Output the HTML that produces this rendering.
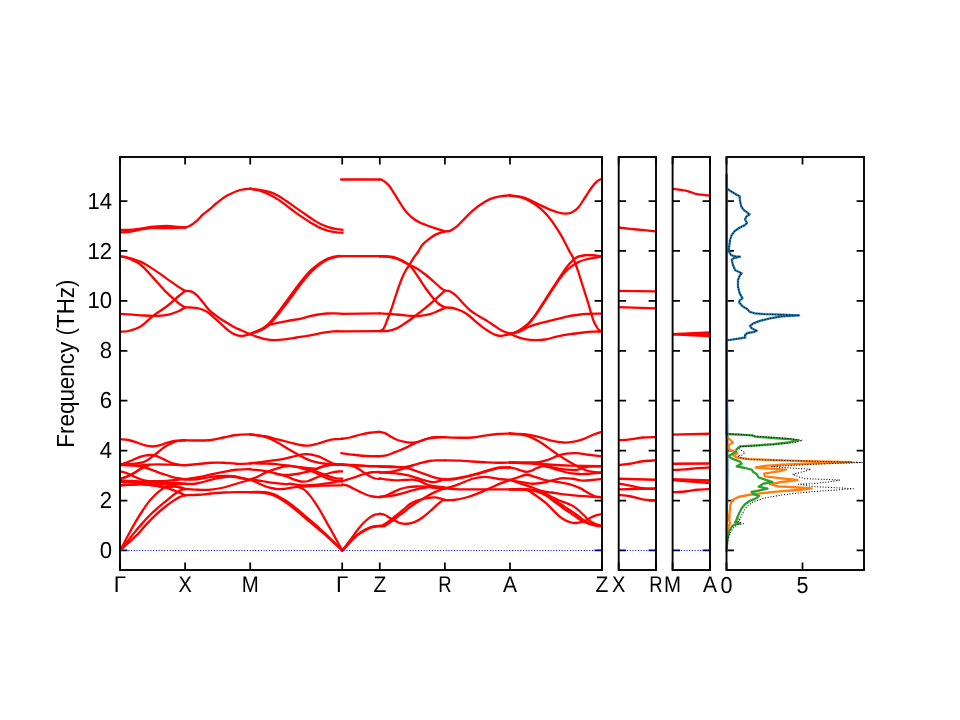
<!DOCTYPE html>
<html><head><meta charset="utf-8"><title>Phonon band structure</title>
<style>
html,body{margin:0;padding:0;background:#fff;}
body{width:960px;height:720px;overflow:hidden;font-family:"Liberation Sans",sans-serif;}
svg{display:block;will-change:transform;}
text{font-family:"Liberation Sans",sans-serif;fill:#000;}
</style></head><body>
<svg width="960" height="720" viewBox="0 0 960 720">
<rect width="960" height="720" fill="#fff"/>
<defs>
<clipPath id="c0"><rect x="120" y="157" width="482" height="413"/><rect x="618.7" y="157" width="37.3" height="413"/><rect x="672.6" y="157" width="37.4" height="413"/></clipPath>
<clipPath id="c3"><rect x="725.6" y="157" width="138.4" height="413"/></clipPath>
</defs>
<path fill="none" stroke="#000" stroke-width="1.75" d="M120.00 550.45L127.40 550.45M602.00 550.45L594.60 550.45M120.00 500.53L127.40 500.53M602.00 500.53L594.60 500.53M120.00 450.61L127.40 450.61M602.00 450.61L594.60 450.61M120.00 400.69L127.40 400.69M602.00 400.69L594.60 400.69M120.00 350.77L127.40 350.77M602.00 350.77L594.60 350.77M120.00 300.85L127.40 300.85M602.00 300.85L594.60 300.85M120.00 250.93L127.40 250.93M602.00 250.93L594.60 250.93M120.00 201.01L127.40 201.01M602.00 201.01L594.60 201.01M120.00 570.00L120.00 562.60M120.00 157.00L120.00 164.40M185.10 570.00L185.10 562.60M185.10 157.00L185.10 164.40M250.20 570.00L250.20 562.60M250.20 157.00L250.20 164.40M342.20 570.00L342.20 562.60M342.20 157.00L342.20 164.40M379.80 570.00L379.80 562.60M379.80 157.00L379.80 164.40M444.90 570.00L444.90 562.60M444.90 157.00L444.90 164.40M510.00 570.00L510.00 562.60M510.00 157.00L510.00 164.40M602.00 570.00L602.00 562.60M602.00 157.00L602.00 164.40M618.70 550.45L626.10 550.45M656.00 550.45L648.60 550.45M618.70 500.53L626.10 500.53M656.00 500.53L648.60 500.53M618.70 450.61L626.10 450.61M656.00 450.61L648.60 450.61M618.70 400.69L626.10 400.69M656.00 400.69L648.60 400.69M618.70 350.77L626.10 350.77M656.00 350.77L648.60 350.77M618.70 300.85L626.10 300.85M656.00 300.85L648.60 300.85M618.70 250.93L626.10 250.93M656.00 250.93L648.60 250.93M618.70 201.01L626.10 201.01M656.00 201.01L648.60 201.01M618.70 570.00L618.70 562.60M618.70 157.00L618.70 164.40M656.00 570.00L656.00 562.60M656.00 157.00L656.00 164.40M672.60 550.45L680.00 550.45M710.00 550.45L702.60 550.45M672.60 500.53L680.00 500.53M710.00 500.53L702.60 500.53M672.60 450.61L680.00 450.61M710.00 450.61L702.60 450.61M672.60 400.69L680.00 400.69M710.00 400.69L702.60 400.69M672.60 350.77L680.00 350.77M710.00 350.77L702.60 350.77M672.60 300.85L680.00 300.85M710.00 300.85L702.60 300.85M672.60 250.93L680.00 250.93M710.00 250.93L702.60 250.93M672.60 201.01L680.00 201.01M710.00 201.01L702.60 201.01M672.60 570.00L672.60 562.60M672.60 157.00L672.60 164.40M710.00 570.00L710.00 562.60M710.00 157.00L710.00 164.40M726.50 550.45L733.90 550.45M864.00 550.45L856.60 550.45M726.50 500.53L733.90 500.53M864.00 500.53L856.60 500.53M726.50 450.61L733.90 450.61M864.00 450.61L856.60 450.61M726.50 400.69L733.90 400.69M864.00 400.69L856.60 400.69M726.50 350.77L733.90 350.77M864.00 350.77L856.60 350.77M726.50 300.85L733.90 300.85M864.00 300.85L856.60 300.85M726.50 250.93L733.90 250.93M864.00 250.93L856.60 250.93M726.50 201.01L733.90 201.01M864.00 201.01L856.60 201.01M726.50 570.00L726.50 562.60M726.50 157.00L726.50 164.40M802.50 570.00L802.50 562.60M802.50 157.00L802.50 164.40"/>
<g clip-path="url(#c0)" fill="none" stroke="#ff0000" stroke-width="2.3" stroke-linecap="round" stroke-linejoin="round"><path d="M120.00 230.00C121.42 229.97 125.69 229.97 128.50 229.83C131.31 229.69 134.06 229.49 136.83 229.17C139.61 228.85 142.39 228.33 145.17 227.92C147.94 227.50 150.72 226.97 153.50 226.67C156.28 226.36 159.06 226.18 161.83 226.08C164.61 225.99 167.39 225.94 170.17 226.08C172.94 226.22 176.01 226.68 178.50 226.92C180.99 227.15 183.99 227.40 185.08 227.50"/><path d="M120.00 232.33C121.42 232.26 125.69 232.24 128.50 231.92C131.31 231.60 134.06 230.94 136.83 230.42C139.61 229.89 142.39 229.17 145.17 228.75C147.94 228.33 150.72 228.03 153.50 227.92C156.28 227.81 159.06 228.04 161.83 228.08C164.61 228.12 167.39 228.22 170.17 228.17C172.94 228.11 176.01 227.86 178.50 227.75C180.99 227.64 183.99 227.54 185.08 227.50"/><path d="M120.00 256.30C121.42 256.54 125.00 256.82 128.50 257.75C132.00 258.68 136.83 259.96 141.00 261.90C145.17 263.84 149.33 266.70 153.50 269.40C157.67 272.10 161.83 275.18 166.00 278.10C170.17 281.02 175.32 284.78 178.50 286.90C181.68 289.02 184.00 290.15 185.10 290.80"/><path d="M120.00 256.30C121.42 256.63 125.00 256.85 128.50 258.30C132.00 259.75 136.83 261.70 141.00 265.00C145.17 268.30 149.33 273.62 153.50 278.10C157.67 282.58 161.83 287.73 166.00 291.90C170.17 296.07 175.32 300.53 178.50 303.10C181.68 305.67 184.00 306.60 185.10 307.30"/><path d="M120.00 313.80C121.42 313.90 125.00 314.15 128.50 314.40C132.00 314.65 136.83 315.05 141.00 315.30C145.17 315.55 149.33 315.92 153.50 315.90C157.67 315.88 161.83 315.97 166.00 315.20C170.17 314.43 175.32 312.57 178.50 311.25C181.68 309.93 184.00 307.96 185.10 307.30"/><path d="M120.00 331.70C121.42 331.58 125.00 331.91 128.50 331.00C132.00 330.09 136.83 328.82 141.00 326.25C145.17 323.68 149.33 318.83 153.50 315.60C157.67 312.38 161.83 310.12 166.00 306.90C170.17 303.67 175.32 298.93 178.50 296.25C181.68 293.57 184.00 291.71 185.10 290.80"/><path d="M185.20 227.50C186.00 227.22 188.08 226.92 190.00 225.80C191.92 224.68 194.48 222.73 196.70 220.80C198.92 218.87 201.08 216.17 203.30 214.20C205.52 212.23 207.77 210.87 210.00 209.00C212.23 207.13 213.92 205.20 216.70 203.00C219.48 200.80 222.82 197.97 226.70 195.80C230.58 193.63 236.08 191.18 240.00 190.00C243.92 188.82 248.50 188.92 250.20 188.70"/><path d="M185.10 290.80C186.08 290.90 188.97 290.60 191.00 291.40C193.03 292.20 195.17 293.65 197.25 295.60C199.33 297.55 201.42 300.60 203.50 303.10C205.58 305.60 207.67 308.52 209.75 310.60C211.83 312.68 213.92 314.03 216.00 315.60C218.08 317.17 220.17 318.64 222.25 320.00C224.33 321.36 226.42 322.50 228.50 323.75C230.58 325.00 232.67 326.43 234.75 327.50C236.83 328.57 238.43 329.08 241.00 330.20C243.57 331.32 248.67 333.53 250.20 334.20"/><path d="M185.10 307.30C186.08 307.33 188.97 307.37 191.00 307.50C193.03 307.63 195.17 307.68 197.25 308.10C199.33 308.52 201.42 309.06 203.50 310.00C205.58 310.94 207.67 312.18 209.75 313.75C211.83 315.32 213.92 317.52 216.00 319.40C218.08 321.27 220.17 323.13 222.25 325.00C224.33 326.87 226.42 329.03 228.50 330.60C230.58 332.17 232.55 333.50 234.75 334.40C236.95 335.30 239.12 336.03 241.70 336.00C244.27 335.97 248.78 334.50 250.20 334.20"/><path d="M250.20 188.70C251.83 188.90 256.70 189.33 260.00 189.90C263.30 190.47 266.95 191.12 270.00 192.10C273.05 193.08 275.52 194.28 278.30 195.80C281.08 197.33 283.92 199.37 286.70 201.25C289.48 203.13 292.23 205.16 295.00 207.10C297.77 209.04 300.52 210.96 303.30 212.90C306.08 214.84 308.92 216.94 311.70 218.75C314.48 220.56 317.23 222.36 320.00 223.75C322.77 225.14 325.52 226.19 328.30 227.10C331.08 228.01 334.32 228.75 336.70 229.20C339.08 229.65 341.62 229.70 342.60 229.80"/><path d="M250.20 188.70C251.83 189.03 256.70 189.65 260.00 190.70C263.30 191.75 266.95 193.52 270.00 195.00C273.05 196.48 275.52 197.80 278.30 199.60C281.08 201.40 283.92 203.72 286.70 205.80C289.48 207.88 292.23 210.08 295.00 212.10C297.77 214.12 300.52 216.03 303.30 217.90C306.08 219.77 308.92 221.63 311.70 223.30C314.48 224.97 317.23 226.65 320.00 227.90C322.77 229.15 325.52 230.07 328.30 230.80C331.08 231.53 334.32 231.98 336.70 232.30C339.08 232.62 341.62 232.68 342.60 232.75"/><path d="M250.17 333.83C251.10 333.54 253.78 332.76 255.76 332.07C257.73 331.37 259.90 330.80 262.02 329.68C264.15 328.57 266.38 327.24 268.51 325.39C270.64 323.53 272.69 321.05 274.80 318.56C276.92 316.06 279.10 313.13 281.21 310.41C283.31 307.70 285.32 305.04 287.41 302.27C289.51 299.50 291.65 296.64 293.77 293.78C295.88 290.92 298.35 287.45 300.10 285.11C301.84 282.78 302.85 281.49 304.23 279.79C305.60 278.10 306.97 276.48 308.34 274.96C309.70 273.43 310.36 272.49 312.41 270.62C314.45 268.75 317.89 265.69 320.63 263.76C323.36 261.83 326.08 260.23 328.82 259.04C331.56 257.84 334.82 257.06 337.05 256.58C339.27 256.10 341.31 256.24 342.17 256.17"/><path d="M250.17 333.83C251.07 333.46 253.66 332.41 255.58 331.60C257.49 330.79 259.60 330.15 261.64 328.98C263.68 327.82 265.78 326.48 267.82 324.61C269.86 322.75 271.81 320.28 273.87 317.78C275.92 315.27 278.06 312.32 280.13 309.59C282.19 306.86 284.18 304.18 286.25 301.40C288.33 298.62 290.46 295.75 292.57 292.89C294.67 290.03 297.15 286.55 298.90 284.22C300.66 281.88 301.70 280.57 303.11 278.87C304.51 277.18 305.92 275.57 307.33 274.04C308.75 272.52 309.48 271.57 311.59 269.71C313.71 267.86 317.22 264.81 320.04 262.91C322.86 261.01 325.69 259.43 328.51 258.30C331.33 257.16 334.68 256.44 336.95 256.09C339.23 255.73 341.30 256.15 342.17 256.17"/><path d="M250.17 333.83C251.08 333.50 253.72 332.58 255.67 331.83C257.61 331.08 259.75 330.42 261.83 329.33C263.92 328.25 266.39 326.19 268.17 325.33C269.94 324.47 270.94 324.58 272.50 324.17C274.06 323.75 275.64 323.25 277.50 322.83C279.36 322.42 281.58 322.06 283.67 321.67C285.75 321.28 287.28 320.97 290.00 320.50C292.72 320.03 296.67 319.56 300.00 318.83C303.33 318.11 306.94 316.89 310.00 316.17C313.06 315.44 315.56 314.94 318.33 314.50C321.11 314.06 323.89 313.69 326.67 313.50C329.44 313.31 332.42 313.28 335.00 313.33C337.58 313.39 340.97 313.75 342.17 313.83"/><path d="M250.17 334.17C251.25 334.58 254.19 335.83 256.67 336.67C259.14 337.50 261.94 338.58 265.00 339.17C268.06 339.75 271.67 340.14 275.00 340.17C278.33 340.19 281.39 339.78 285.00 339.33C288.61 338.89 292.50 338.17 296.67 337.50C300.83 336.83 305.56 336.14 310.00 335.33C314.44 334.53 319.44 333.33 323.33 332.67C327.22 332.00 330.19 331.56 333.33 331.33C336.47 331.11 340.69 331.33 342.17 331.33"/><path d="M341.00 179.50L379.67 179.50"/><path d="M342.17 256.17L379.67 256.17"/><path d="M342.17 313.83L379.67 313.33"/><path d="M342.17 331.33L379.67 331.17"/><path d="M379.80 179.50C380.21 179.58 380.80 179.08 382.25 180.00C383.70 180.92 386.42 182.60 388.50 185.00C390.58 187.40 392.67 191.17 394.75 194.40C396.83 197.63 398.92 201.28 401.00 204.40C403.08 207.52 405.17 210.71 407.25 213.10C409.33 215.49 411.42 217.18 413.50 218.75C415.58 220.32 417.67 221.46 419.75 222.50C421.83 223.54 423.92 224.21 426.00 225.00C428.08 225.79 430.17 226.52 432.25 227.25C434.33 227.98 436.39 228.72 438.50 229.40C440.61 230.08 443.83 230.98 444.90 231.30"/><path d="M379.75 331.25C380.38 330.83 382.25 330.62 383.50 328.75C384.75 326.88 386.00 323.12 387.25 320.00C388.50 316.88 389.75 313.54 391.00 310.00C392.25 306.46 393.50 302.50 394.75 298.75C396.00 295.00 397.25 291.04 398.50 287.50C399.75 283.96 401.00 280.42 402.25 277.50C403.50 274.58 404.75 272.18 406.00 270.00C407.25 267.82 408.50 266.38 409.75 264.40C411.00 262.42 412.04 260.29 413.50 258.10C414.96 255.91 417.04 253.43 418.50 251.25C419.96 249.07 420.58 246.97 422.25 245.00C423.92 243.03 426.21 241.17 428.50 239.40C430.79 237.63 433.27 235.75 436.00 234.40C438.73 233.05 443.42 231.82 444.90 231.30"/><path d="M379.75 256.25C381.21 256.29 385.79 256.25 388.50 256.50C391.21 256.75 393.50 256.96 396.00 257.75C398.50 258.54 401.21 260.04 403.50 261.25C405.79 262.46 407.46 263.75 409.75 265.00C412.04 266.25 414.54 267.08 417.25 268.75C419.96 270.42 423.08 272.71 426.00 275.00C428.92 277.29 432.25 280.32 434.75 282.50C437.25 284.68 439.31 286.75 441.00 288.10C442.69 289.45 444.25 290.18 444.90 290.60"/><path d="M379.75 256.25C381.21 256.36 385.79 256.52 388.50 256.90C391.21 257.27 393.50 257.67 396.00 258.50C398.50 259.33 401.21 260.72 403.50 261.90C405.79 263.08 407.88 263.93 409.75 265.60C411.62 267.27 413.08 269.60 414.75 271.90C416.42 274.20 417.88 276.59 419.75 279.40C421.62 282.21 423.92 285.83 426.00 288.75C428.08 291.67 430.17 294.40 432.25 296.90C434.33 299.40 436.39 301.98 438.50 303.75C440.61 305.52 443.83 306.88 444.90 307.50"/><path d="M379.67 313.33C382.50 313.53 391.61 314.08 396.67 314.50C401.72 314.92 406.11 315.61 410.00 315.83C413.89 316.06 416.67 316.11 420.00 315.83C423.33 315.56 426.94 315.00 430.00 314.17C433.06 313.33 435.89 311.86 438.33 310.83C440.78 309.81 443.61 308.47 444.67 308.00"/><path d="M379.67 331.17C381.11 331.11 385.50 331.31 388.33 330.83C391.17 330.36 393.89 329.58 396.67 328.33C399.44 327.08 402.22 325.14 405.00 323.33C407.78 321.53 410.56 319.58 413.33 317.50C416.11 315.42 418.89 313.06 421.67 310.83C424.44 308.61 427.22 306.53 430.00 304.17C432.78 301.81 435.89 298.89 438.33 296.67C440.78 294.44 443.61 291.81 444.67 290.83"/><path d="M444.67 231.33C445.56 231.25 448.00 231.61 450.00 230.83C452.00 230.06 454.44 228.47 456.67 226.67C458.89 224.86 460.83 222.50 463.33 220.00C465.83 217.50 468.89 214.17 471.67 211.67C474.44 209.17 476.94 207.08 480.00 205.00C483.06 202.92 486.67 200.61 490.00 199.17C493.33 197.72 496.72 196.97 500.00 196.33C503.28 195.69 508.06 195.50 509.67 195.33"/><path d="M444.90 290.60C445.71 290.71 447.90 290.42 449.75 291.25C451.60 292.08 453.71 293.52 456.00 295.60C458.29 297.68 461.21 301.35 463.50 303.75C465.79 306.15 467.67 308.23 469.75 310.00C471.83 311.77 473.92 313.05 476.00 314.40C478.08 315.75 480.17 316.85 482.25 318.10C484.33 319.35 486.21 320.43 488.50 321.90C490.79 323.37 493.75 325.43 496.00 326.90C498.25 328.37 499.68 329.57 502.00 330.70C504.32 331.83 508.58 333.20 509.90 333.70"/><path d="M444.90 307.50C445.92 307.54 448.94 307.43 451.00 307.75C453.06 308.07 455.17 308.71 457.25 309.40C459.33 310.09 461.42 310.76 463.50 311.90C465.58 313.04 467.67 314.58 469.75 316.25C471.83 317.92 473.92 320.12 476.00 321.90C478.08 323.67 480.17 325.34 482.25 326.90C484.33 328.46 486.54 330.03 488.50 331.25C490.46 332.47 492.08 333.44 494.00 334.20C495.92 334.96 497.35 335.80 500.00 335.80C502.65 335.80 508.25 334.47 509.90 334.20"/><path d="M509.67 195.33C511.39 195.56 516.61 195.89 520.00 196.67C523.39 197.44 526.67 198.61 530.00 200.00C533.33 201.39 536.67 203.39 540.00 205.00C543.33 206.61 546.94 208.42 550.00 209.67C553.06 210.92 555.83 211.83 558.33 212.50C560.83 213.17 562.78 213.67 565.00 213.67C567.22 213.67 569.44 213.53 571.67 212.50C573.89 211.47 576.11 210.00 578.33 207.50C580.56 205.00 582.78 200.83 585.00 197.50C587.22 194.17 589.72 190.14 591.67 187.50C593.61 184.86 595.14 183.06 596.67 181.67C598.19 180.28 600.14 179.58 600.83 179.17"/><path d="M510.00 195.50C511.88 195.83 517.71 196.43 521.25 197.50C524.79 198.57 528.12 200.13 531.25 201.90C534.38 203.67 537.29 205.82 540.00 208.10C542.71 210.38 545.00 212.68 547.50 215.60C550.00 218.52 552.71 222.27 555.00 225.60C557.29 228.93 559.38 232.37 561.25 235.60C563.12 238.83 564.88 242.35 566.25 245.00C567.62 247.65 568.46 249.58 569.50 251.50C570.54 253.42 571.58 254.67 572.50 256.50C573.42 258.33 574.07 260.04 575.00 262.50C575.93 264.96 577.06 268.12 578.10 271.25C579.14 274.38 580.10 277.61 581.25 281.25C582.40 284.89 583.75 289.14 585.00 293.10C586.25 297.06 587.71 301.56 588.75 305.00C589.79 308.44 590.42 311.04 591.25 313.75C592.08 316.46 592.92 319.17 593.75 321.25C594.58 323.33 595.38 324.79 596.25 326.25C597.12 327.71 598.12 329.12 599.00 330.00C599.88 330.88 601.08 331.25 601.50 331.50"/><path d="M509.70 334.00C510.75 333.67 513.87 332.98 516.00 332.00C518.13 331.02 520.38 329.58 522.50 328.10C524.62 326.62 526.67 325.22 528.75 323.10C530.83 320.98 532.92 318.27 535.00 315.40C537.08 312.53 539.17 309.12 541.25 305.90C543.33 302.68 545.42 299.33 547.50 296.10C549.58 292.87 551.67 289.70 553.75 286.50C555.83 283.30 557.92 280.02 560.00 276.90C562.08 273.77 564.17 270.47 566.25 267.75C568.33 265.03 570.62 262.41 572.50 260.60C574.38 258.79 575.42 257.79 577.50 256.90C579.58 256.01 582.50 255.53 585.00 255.25C587.50 254.97 589.75 255.04 592.50 255.25C595.25 255.46 600.00 256.29 601.50 256.50"/><path d="M509.70 334.00C510.75 333.70 513.87 333.12 516.00 332.20C518.13 331.28 520.38 329.93 522.50 328.50C524.62 327.07 526.67 325.67 528.75 323.60C530.83 321.53 532.92 318.90 535.00 316.10C537.08 313.30 539.17 309.97 541.25 306.80C543.33 303.63 545.42 300.30 547.50 297.10C549.58 293.90 551.67 290.73 553.75 287.60C555.83 284.47 557.92 281.07 560.00 278.30C562.08 275.53 564.17 273.12 566.25 271.00C568.33 268.88 570.42 267.12 572.50 265.60C574.58 264.08 576.67 262.88 578.75 261.90C580.83 260.92 582.71 260.38 585.00 259.75C587.29 259.12 589.75 258.61 592.50 258.10C595.25 257.59 600.00 256.93 601.50 256.70"/><path d="M509.67 334.17C511.39 333.69 516.89 332.53 520.00 331.33C523.11 330.14 525.56 328.19 528.33 327.00C531.11 325.81 533.61 325.06 536.67 324.17C539.72 323.28 543.33 322.50 546.67 321.67C550.00 320.83 553.33 320.00 556.67 319.17C560.00 318.33 563.33 317.36 566.67 316.67C570.00 315.97 573.33 315.47 576.67 315.00C580.00 314.53 582.64 314.06 586.67 313.83C590.69 313.61 598.47 313.69 600.83 313.67"/><path d="M509.67 333.67C510.83 334.17 514.11 335.75 516.67 336.67C519.22 337.58 521.94 338.58 525.00 339.17C528.06 339.75 531.67 340.11 535.00 340.17C538.33 340.22 541.39 340.08 545.00 339.50C548.61 338.92 552.50 337.56 556.67 336.67C560.83 335.78 565.56 334.86 570.00 334.17C574.44 333.47 579.44 332.92 583.33 332.50C587.22 332.08 590.42 331.83 593.33 331.67C596.25 331.50 599.58 331.53 600.83 331.50"/><path d="M618.30 227.50C621.42 227.83 630.75 228.87 637.00 229.50C643.25 230.13 652.67 231.00 655.80 231.30"/><path d="M618.30 290.80L655.80 291.30"/><path d="M618.30 307.20L655.80 308.30"/><path d="M672.20 188.70C674.62 189.05 682.62 189.88 686.70 190.80C690.78 191.72 692.87 193.42 696.70 194.20C700.53 194.98 707.53 195.28 709.70 195.50"/><path d="M672.20 334.20L709.70 332.30"/><path d="M672.20 334.20L709.70 334.20"/><path d="M672.20 334.40L709.70 336.00"/><path d="M120.17 439.17C121.56 439.31 125.72 439.44 128.50 440.00C131.28 440.56 134.06 441.60 136.83 442.50C139.61 443.40 142.53 444.75 145.17 445.42C147.81 446.08 150.31 446.50 152.67 446.50C155.03 446.50 156.83 446.08 159.33 445.42C161.83 444.75 164.89 443.29 167.67 442.50C170.44 441.71 173.08 441.04 176.00 440.67C178.92 440.29 183.64 440.32 185.17 440.25"/><path d="M120.17 464.58C121.56 464.51 125.72 464.38 128.50 464.17C131.28 463.96 134.33 463.68 136.83 463.33C139.33 462.99 141.69 462.64 143.50 462.08C145.31 461.53 146.14 460.97 147.67 460.00C149.19 459.03 151.00 457.50 152.67 456.25C154.33 455.00 156.00 453.82 157.67 452.50C159.33 451.18 161.00 449.58 162.67 448.33C164.33 447.08 165.72 446.08 167.67 445.00C169.61 443.92 172.11 442.58 174.33 441.83C176.56 441.08 179.19 440.76 181.00 440.50C182.81 440.24 184.47 440.29 185.17 440.25"/><path d="M120.17 464.58C121.14 464.31 123.92 463.68 126.00 462.92C128.08 462.15 130.44 460.97 132.67 460.00C134.89 459.03 137.11 457.85 139.33 457.08C141.56 456.32 143.92 455.76 146.00 455.42C148.08 455.07 150.17 454.93 151.83 455.00C153.50 455.07 154.47 455.35 156.00 455.83C157.53 456.32 159.33 457.15 161.00 457.92C162.67 458.68 164.06 459.51 166.00 460.42C167.94 461.32 170.44 462.60 172.67 463.33C174.89 464.07 177.25 464.53 179.33 464.83C181.42 465.14 184.19 465.11 185.17 465.17"/><path d="M120.17 464.83C122.25 464.93 129.19 465.33 132.67 465.42C136.14 465.50 138.22 465.46 141.00 465.33C143.78 465.21 146.56 464.83 149.33 464.67C152.11 464.50 154.19 464.35 157.67 464.33C161.14 464.32 165.58 464.44 170.17 464.58C174.75 464.72 182.67 465.07 185.17 465.17"/><path d="M120.17 465.00C121.56 465.03 125.72 465.03 128.50 465.17C131.28 465.31 134.33 465.51 136.83 465.83C139.33 466.15 141.14 466.46 143.50 467.08C145.86 467.71 148.64 468.75 151.00 469.58C153.36 470.42 155.44 471.28 157.67 472.08C159.89 472.89 162.11 473.67 164.33 474.42C166.56 475.17 168.78 475.94 171.00 476.58C173.22 477.22 175.72 477.85 177.67 478.25C179.61 478.65 181.42 478.85 182.67 479.00C183.92 479.15 184.75 479.14 185.17 479.17"/><path d="M120.17 471.25C121.14 471.53 123.92 472.15 126.00 472.92C128.08 473.68 130.44 474.86 132.67 475.83C134.89 476.81 137.39 477.99 139.33 478.75C141.28 479.51 142.67 480.03 144.33 480.42C146.00 480.81 147.11 480.94 149.33 481.08C151.56 481.22 154.78 481.29 157.67 481.25C160.56 481.21 163.78 481.04 166.67 480.83C169.56 480.62 171.92 480.28 175.00 480.00C178.08 479.72 183.47 479.31 185.17 479.17"/><path d="M120.17 478.75C121.39 478.33 125.03 477.29 127.50 476.25C129.97 475.21 132.60 473.86 135.00 472.50C137.40 471.14 139.62 469.29 141.92 468.08C144.21 466.88 147.61 465.72 148.75 465.25"/><path d="M120.17 479.33C122.01 478.56 127.32 476.74 131.25 474.67C135.18 472.60 140.74 468.53 143.75 466.92C146.76 465.31 148.40 465.32 149.33 465.00"/><path d="M120.20 480.70C122.28 480.75 128.57 480.82 132.70 481.00C136.83 481.18 140.83 481.58 145.00 481.80C149.17 482.02 154.08 482.25 157.70 482.30C161.32 482.35 163.82 482.00 166.70 482.10C169.58 482.20 171.92 482.63 175.00 482.90C178.08 483.17 183.50 483.57 185.20 483.70"/><path d="M120.20 482.00C122.28 482.05 127.85 482.07 132.70 482.30C137.55 482.53 145.13 483.12 149.30 483.40C153.47 483.68 153.42 483.87 157.70 484.00C161.98 484.13 170.42 484.22 175.00 484.20C179.58 484.18 183.50 483.95 185.20 483.90"/><path d="M120.17 485.25C121.56 485.18 125.03 485.00 128.50 484.83C131.97 484.67 137.53 484.26 141.00 484.25C144.47 484.24 146.44 484.42 149.33 484.75C152.22 485.08 155.44 485.72 158.33 486.25C161.22 486.78 163.89 487.15 166.67 487.92C169.44 488.68 172.78 490.00 175.00 490.83C177.22 491.67 178.31 492.15 180.00 492.92C181.69 493.68 184.31 495.00 185.17 495.42"/><path d="M120.17 485.25C122.25 485.15 129.19 484.85 132.67 484.67C136.14 484.49 136.72 483.94 141.00 484.17C145.28 484.39 154.06 485.51 158.33 486.00C162.61 486.49 163.89 487.00 166.67 487.08C169.44 487.17 172.78 486.43 175.00 486.50C177.22 486.57 178.31 487.06 180.00 487.50C181.69 487.94 184.31 488.89 185.17 489.17"/><path d="M120.25 550.38C121.46 548.06 125.04 541.08 127.50 536.50C129.96 531.92 132.50 527.17 135.00 522.88C137.50 518.58 140.21 514.25 142.50 510.75C144.79 507.25 146.67 504.50 148.75 501.88C150.83 499.25 153.12 496.88 155.00 495.00C156.88 493.12 158.33 491.94 160.00 490.62C161.67 489.31 163.33 488.00 165.00 487.12C166.67 486.25 167.92 485.42 170.00 485.38C172.08 485.33 175.42 486.42 177.50 486.88C179.58 487.33 181.21 487.77 182.50 488.12C183.79 488.48 184.79 488.85 185.25 489.00"/><path d="M120.25 550.38C121.46 548.85 125.04 544.33 127.50 541.25C129.96 538.17 132.50 534.90 135.00 531.88C137.50 528.85 140.00 525.94 142.50 523.12C145.00 520.31 147.50 517.50 150.00 515.00C152.50 512.50 155.00 510.31 157.50 508.12C160.00 505.94 162.50 503.96 165.00 501.88C167.50 499.79 170.00 497.50 172.50 495.62C175.00 493.75 177.88 491.73 180.00 490.62C182.12 489.52 184.38 489.27 185.25 489.00"/><path d="M120.25 550.38C121.46 549.27 124.73 546.31 127.50 543.75C130.27 541.19 134.38 537.50 136.88 535.00C139.38 532.50 140.52 530.94 142.50 528.75C144.48 526.56 146.67 524.06 148.75 521.88C150.83 519.69 152.92 517.60 155.00 515.62C157.08 513.65 159.17 511.77 161.25 510.00C163.33 508.23 165.42 506.56 167.50 505.00C169.58 503.44 171.67 501.98 173.75 500.62C175.83 499.27 178.08 497.77 180.00 496.88C181.92 495.98 184.38 495.52 185.25 495.25"/><path d="M185.25 440.25C187.50 440.29 194.42 440.54 198.75 440.50C203.08 440.46 207.08 440.50 211.25 440.00C215.42 439.50 219.58 438.33 223.75 437.50C227.92 436.67 231.83 435.52 236.25 435.00C240.67 434.48 247.92 434.48 250.25 434.38"/><path d="M185.25 465.25C187.50 465.04 194.42 464.42 198.75 464.00C203.08 463.58 207.08 462.96 211.25 462.75C215.42 462.54 219.58 462.58 223.75 462.75C227.92 462.92 231.83 463.62 236.25 463.75C240.67 463.88 247.92 463.54 250.25 463.50"/><path d="M185.25 479.12C187.50 478.81 194.42 478.04 198.75 477.25C203.08 476.46 207.08 475.27 211.25 474.38C215.42 473.48 219.58 472.65 223.75 471.88C227.92 471.10 231.83 470.23 236.25 469.75C240.67 469.27 247.92 469.12 250.25 469.00"/><path d="M185.25 479.62C187.50 479.52 194.42 479.46 198.75 479.00C203.08 478.54 207.08 477.38 211.25 476.88C215.42 476.38 220.00 476.10 223.75 476.00C227.50 475.90 230.62 475.90 233.75 476.25C236.88 476.60 239.75 477.50 242.50 478.12C245.25 478.75 248.96 479.69 250.25 480.00"/><path d="M185.25 484.00C186.88 483.96 191.71 484.17 195.00 483.75C198.29 483.33 201.25 482.44 205.00 481.50C208.75 480.56 213.33 478.96 217.50 478.12C221.67 477.29 226.25 476.52 230.00 476.50C233.75 476.48 236.62 477.42 240.00 478.00C243.38 478.58 248.54 479.67 250.25 480.00"/><path d="M185.25 489.00C187.50 489.12 194.42 489.65 198.75 489.75C203.08 489.85 207.08 490.00 211.25 489.62C215.42 489.25 219.58 488.48 223.75 487.50C227.92 486.52 232.71 484.79 236.25 483.75C239.79 482.71 242.67 481.88 245.00 481.25C247.33 480.62 249.38 480.21 250.25 480.00"/><path d="M185.25 495.25C187.50 495.17 194.42 495.04 198.75 494.75C203.08 494.46 207.08 493.88 211.25 493.50C215.42 493.12 219.58 492.73 223.75 492.50C227.92 492.27 231.83 492.17 236.25 492.12C240.67 492.08 247.92 492.23 250.25 492.25"/><path d="M250.25 434.38C252.71 434.69 260.46 435.42 265.00 436.25C269.54 437.08 273.33 438.33 277.50 439.38C281.67 440.42 286.25 441.56 290.00 442.50C293.75 443.44 296.88 444.48 300.00 445.00C303.12 445.52 305.83 445.83 308.75 445.62C311.67 445.42 314.38 444.58 317.50 443.75C320.62 442.92 324.58 441.40 327.50 440.62C330.42 439.85 332.54 439.44 335.00 439.12C337.46 438.81 341.04 438.81 342.25 438.75"/><path d="M250.25 434.38C252.71 434.79 260.46 435.52 265.00 436.88C269.54 438.23 273.33 440.31 277.50 442.50C281.67 444.69 286.25 447.81 290.00 450.00C293.75 452.19 297.08 454.06 300.00 455.62C302.92 457.19 305.00 458.33 307.50 459.38C310.00 460.42 312.08 461.15 315.00 461.88C317.92 462.60 321.88 463.29 325.00 463.75C328.12 464.21 330.88 464.46 333.75 464.62C336.62 464.79 340.83 464.73 342.25 464.75"/><path d="M250.17 463.17C251.97 462.99 257.11 462.54 261.00 462.08C264.89 461.62 269.33 461.04 273.50 460.42C277.67 459.79 282.53 459.03 286.00 458.33C289.47 457.64 291.83 456.88 294.33 456.25C296.83 455.62 298.92 454.93 301.00 454.58C303.08 454.24 304.78 454.10 306.83 454.17C308.89 454.24 311.28 454.58 313.33 455.00C315.39 455.42 316.81 455.69 319.17 456.67C321.53 457.64 325.00 459.65 327.50 460.83C330.00 462.01 331.72 463.12 334.17 463.75C336.61 464.38 340.83 464.44 342.17 464.58"/><path d="M250.17 463.17C252.67 463.22 260.58 463.31 265.17 463.50C269.75 463.69 273.50 463.94 277.67 464.33C281.83 464.72 286.00 465.31 290.17 465.83C294.33 466.36 298.36 467.01 302.67 467.50C306.97 467.99 313.25 468.75 316.00 468.75C318.75 468.75 317.25 468.06 319.17 467.50C321.08 466.94 325.00 465.90 327.50 465.42C330.00 464.93 331.72 464.72 334.17 464.58C336.61 464.44 340.83 464.58 342.17 464.58"/><path d="M250.17 469.33C251.97 469.51 257.81 470.00 261.00 470.42C264.19 470.83 266.56 471.21 269.33 471.83C272.11 472.46 274.89 473.43 277.67 474.17C280.44 474.90 283.22 475.35 286.00 476.25C288.78 477.15 291.83 478.71 294.33 479.58C296.83 480.46 298.78 481.22 301.00 481.50C303.22 481.78 305.06 481.92 307.67 481.25C310.28 480.58 314.06 478.54 316.67 477.50C319.28 476.46 320.83 475.83 323.33 475.00C325.83 474.17 329.17 473.08 331.67 472.50C334.17 471.92 336.58 471.67 338.33 471.50C340.08 471.33 341.53 471.50 342.17 471.50"/><path d="M250.17 479.58C251.28 479.17 254.33 478.19 256.83 477.08C259.33 475.97 262.39 474.17 265.17 472.92C267.94 471.67 270.72 470.56 273.50 469.58C276.28 468.61 279.06 467.71 281.83 467.08C284.61 466.46 286.72 465.62 290.17 465.83C293.61 466.04 299.06 467.64 302.50 468.33C305.94 469.03 308.06 469.31 310.83 470.00C313.61 470.69 316.39 471.53 319.17 472.50C321.94 473.47 324.72 474.86 327.50 475.83C330.28 476.81 333.39 477.85 335.83 478.33C338.28 478.82 341.11 478.68 342.17 478.75"/><path d="M276.00 473.75C277.67 473.96 282.25 475.00 286.00 475.00C289.75 475.00 295.03 474.28 298.50 473.75C301.97 473.22 303.92 472.53 306.83 471.83C309.75 471.14 313.94 470.24 316.00 469.58C318.06 468.93 317.25 468.61 319.17 467.92C321.08 467.22 325.00 465.97 327.50 465.42C330.00 464.86 331.72 464.72 334.17 464.58C336.61 464.44 340.83 464.58 342.17 464.58"/><path d="M250.17 479.58C251.97 479.79 257.11 480.28 261.00 480.83C264.89 481.39 269.33 482.36 273.50 482.92C277.67 483.47 283.25 484.03 286.00 484.17C288.75 484.31 287.25 483.54 290.00 483.75C292.75 483.96 298.33 485.21 302.50 485.42C306.67 485.62 310.83 485.35 315.00 485.00C319.17 484.65 323.89 483.89 327.50 483.33C331.11 482.78 334.22 482.08 336.67 481.67C339.11 481.25 341.25 480.97 342.17 480.83"/><path d="M250.17 479.58C251.28 480.07 254.33 481.39 256.83 482.50C259.33 483.61 262.39 485.25 265.17 486.25C267.94 487.25 270.72 488.04 273.50 488.50C276.28 488.96 279.06 489.10 281.83 489.00C284.61 488.90 287.39 488.31 290.17 487.92C292.94 487.53 296.44 486.88 298.50 486.67C300.56 486.46 298.36 486.83 302.50 486.67C306.64 486.50 316.72 485.88 323.33 485.67C329.94 485.46 339.03 485.46 342.17 485.42"/><path d="M302.50 468.75C303.89 469.10 308.33 469.99 310.83 470.83C313.33 471.68 315.14 472.75 317.50 473.83C319.86 474.92 322.36 476.26 325.00 477.33C327.64 478.40 331.11 479.61 333.33 480.25C335.56 480.89 336.86 480.97 338.33 481.17C339.81 481.36 341.53 481.38 342.17 481.42"/><path d="M342.20 550.50C341.25 548.75 338.37 543.42 336.50 540.00C334.63 536.58 332.54 532.77 331.00 530.00C329.46 527.23 328.50 525.63 327.25 523.40C326.00 521.17 324.75 518.83 323.50 516.60C322.25 514.37 321.10 512.25 319.75 510.00C318.40 507.75 316.86 505.28 315.40 503.10C313.94 500.92 312.47 498.77 311.00 496.90C309.53 495.03 307.95 493.23 306.60 491.90C305.25 490.57 304.08 489.67 302.90 488.90C301.72 488.13 300.65 487.63 299.50 487.30C298.35 486.97 296.58 486.97 296.00 486.90"/><path d="M250.20 492.20C251.50 492.25 255.54 492.32 257.99 492.48C260.45 492.64 262.54 492.71 264.93 493.14C267.32 493.57 269.85 494.13 272.31 495.04C274.77 495.95 277.47 497.40 279.69 498.60C281.90 499.79 283.57 500.84 285.58 502.22C287.60 503.60 289.70 505.26 291.77 506.87C293.84 508.48 295.91 510.15 297.99 511.87C300.07 513.59 302.15 515.43 304.24 517.20C306.33 518.97 308.42 520.72 310.52 522.47C312.61 524.22 315.23 526.38 316.81 527.71C318.39 529.04 318.37 529.03 320.02 530.43C321.67 531.83 324.40 534.08 326.70 536.13C329.00 538.17 331.22 540.31 333.81 542.70C336.39 545.10 340.80 549.20 342.20 550.50"/><path d="M250.20 492.20C251.50 492.15 255.53 491.91 258.01 491.92C260.49 491.93 262.62 491.92 265.07 492.26C267.52 492.60 270.15 493.10 272.69 493.96C275.23 494.82 278.03 496.23 280.31 497.40C282.60 498.57 284.35 499.61 286.42 500.98C288.48 502.35 290.63 504.02 292.73 505.63C294.83 507.24 296.92 508.90 299.01 510.63C301.10 512.36 303.18 514.22 305.26 516.00C307.34 517.78 309.41 519.55 311.48 521.33C313.55 523.11 316.14 525.32 317.69 526.69C319.24 528.06 319.18 528.11 320.78 529.57C322.38 531.03 325.07 533.35 327.30 535.47C329.54 537.59 331.71 539.79 334.19 542.30C336.68 544.80 340.87 549.13 342.20 550.50"/><path d="M342.25 438.75C343.54 438.54 347.04 438.17 350.00 437.50C352.96 436.83 356.67 435.54 360.00 434.75C363.33 433.96 366.71 433.23 370.00 432.75C373.29 432.27 378.12 432.02 379.75 431.88"/><path d="M341.25 453.12C343.33 453.40 349.58 454.27 353.75 454.75C357.92 455.23 361.92 455.75 366.25 456.00C370.58 456.25 377.50 456.21 379.75 456.25"/><path d="M342.25 464.38C344.17 464.48 349.75 464.75 353.75 465.00C357.75 465.25 361.92 465.67 366.25 465.88C370.58 466.08 377.50 466.19 379.75 466.25"/><path d="M342.25 464.88C344.17 464.96 349.75 465.17 353.75 465.38C357.75 465.58 361.92 465.94 366.25 466.12C370.58 466.31 377.50 466.44 379.75 466.50"/><path d="M342.25 464.75C343.75 464.90 348.71 465.06 351.25 465.62C353.79 466.19 355.42 466.98 357.50 468.12C359.58 469.27 361.67 471.15 363.75 472.50C365.83 473.85 368.12 475.25 370.00 476.25C371.88 477.25 373.38 478.04 375.00 478.50C376.62 478.96 378.96 478.92 379.75 479.00"/><path d="M342.25 481.25C343.54 480.83 347.46 479.58 350.00 478.75C352.54 477.92 355.00 477.08 357.50 476.25C360.00 475.42 362.50 474.42 365.00 473.75C367.50 473.08 370.04 472.56 372.50 472.25C374.96 471.94 378.54 471.94 379.75 471.88"/><path d="M342.25 484.38C343.12 484.58 345.58 484.90 347.50 485.62C349.42 486.35 351.67 487.71 353.75 488.75C355.83 489.79 357.92 490.88 360.00 491.88C362.08 492.88 364.17 493.98 366.25 494.75C368.33 495.52 370.25 496.08 372.50 496.50C374.75 496.92 378.54 497.12 379.75 497.25"/><path d="M342.20 550.50C342.93 549.58 345.03 547.07 346.60 545.00C348.17 542.93 349.93 540.39 351.60 538.10C353.27 535.81 354.93 533.43 356.60 531.25C358.27 529.07 359.93 526.88 361.60 525.00C363.27 523.12 364.93 521.46 366.60 520.00C368.27 518.54 370.03 517.18 371.60 516.25C373.17 515.32 374.63 514.77 376.00 514.40C377.37 514.02 379.17 514.07 379.80 514.00"/><path d="M342.25 550.62C343.12 549.65 345.58 546.88 347.50 544.75C349.42 542.62 351.67 539.85 353.75 537.88C355.83 535.90 357.92 534.33 360.00 532.88C362.08 531.42 364.17 530.17 366.25 529.12C368.33 528.08 370.25 527.17 372.50 526.62C374.75 526.08 378.54 526.00 379.75 525.88"/><path d="M342.25 550.62C343.12 549.73 345.58 547.29 347.50 545.25C349.42 543.21 351.67 540.35 353.75 538.38C355.83 536.40 357.92 534.83 360.00 533.38C362.08 531.92 364.17 530.67 366.25 529.62C368.33 528.58 370.25 527.71 372.50 527.12C374.75 526.54 378.54 526.29 379.75 526.12"/><path d="M379.75 431.88C380.62 432.08 383.08 432.29 385.00 433.12C386.92 433.96 389.17 435.73 391.25 436.88C393.33 438.02 395.21 439.17 397.50 440.00C399.79 440.83 402.50 441.42 405.00 441.88C407.50 442.33 410.00 442.85 412.50 442.75C415.00 442.65 417.50 441.96 420.00 441.25C422.50 440.54 425.00 439.17 427.50 438.50C430.00 437.83 432.12 437.48 435.00 437.25C437.88 437.02 443.12 437.15 444.75 437.12"/><path d="M379.75 456.25C380.62 456.15 383.08 456.04 385.00 455.62C386.92 455.21 389.17 454.48 391.25 453.75C393.33 453.02 395.21 452.19 397.50 451.25C399.79 450.31 402.50 449.27 405.00 448.12C407.50 446.98 410.00 445.52 412.50 444.38C415.00 443.23 417.50 442.19 420.00 441.25C422.50 440.31 425.00 439.38 427.50 438.75C430.00 438.12 432.12 437.77 435.00 437.50C437.88 437.23 443.12 437.19 444.75 437.12"/><path d="M379.67 466.25C381.67 466.29 387.58 466.36 391.67 466.50C395.75 466.64 400.69 467.26 404.17 467.08C407.64 466.90 409.72 466.11 412.50 465.42C415.28 464.72 418.06 463.65 420.83 462.92C423.61 462.18 426.39 461.42 429.17 461.00C431.94 460.58 434.92 460.51 437.50 460.42C440.08 460.32 443.47 460.42 444.67 460.42"/><path d="M379.67 466.67C382.36 466.74 391.06 466.81 395.83 467.08C400.61 467.36 404.86 467.64 408.33 468.33C411.81 469.03 413.89 470.28 416.67 471.25C419.44 472.22 422.22 473.19 425.00 474.17C427.78 475.14 430.83 476.32 433.33 477.08C435.83 477.85 438.11 478.40 440.00 478.75C441.89 479.10 443.89 479.10 444.67 479.17"/><path d="M379.67 472.50C381.67 472.36 388.28 472.15 391.67 471.67C395.06 471.18 397.22 470.35 400.00 469.58C402.78 468.82 406.25 467.78 408.33 467.08C410.42 466.39 411.81 465.69 412.50 465.42"/><path d="M379.67 472.50C382.36 472.64 391.06 472.85 395.83 473.33C400.61 473.82 404.86 474.65 408.33 475.42C411.81 476.18 413.89 477.08 416.67 477.92C419.44 478.75 422.22 479.72 425.00 480.42C427.78 481.11 430.83 482.01 433.33 482.08C435.83 482.15 438.11 481.32 440.00 480.83C441.89 480.35 443.89 479.44 444.67 479.17"/><path d="M379.67 478.33C380.97 478.54 384.81 479.24 387.50 479.58C390.19 479.93 393.06 480.35 395.83 480.42C398.61 480.49 401.39 480.14 404.17 480.00C406.94 479.86 410.00 479.44 412.50 479.58C415.00 479.72 417.08 480.14 419.17 480.83C421.25 481.53 422.92 482.92 425.00 483.75C427.08 484.58 429.44 485.35 431.67 485.83C433.89 486.32 436.17 486.39 438.33 486.67C440.50 486.94 443.61 487.36 444.67 487.50"/><path d="M379.67 496.67C380.56 496.53 383.00 496.46 385.00 495.83C387.00 495.21 389.17 494.03 391.67 492.92C394.17 491.81 397.22 490.14 400.00 489.17C402.78 488.19 405.56 487.53 408.33 487.08C411.11 486.64 413.89 486.57 416.67 486.50C419.44 486.43 422.22 486.50 425.00 486.67C427.78 486.83 430.06 487.15 433.33 487.50C436.61 487.85 442.78 488.54 444.67 488.75"/><path d="M379.67 497.08C380.97 496.94 384.81 496.60 387.50 496.25C390.19 495.90 393.06 495.56 395.83 495.00C398.61 494.44 401.39 493.68 404.17 492.92C406.94 492.15 409.72 491.18 412.50 490.42C415.28 489.65 418.06 488.89 420.83 488.33C423.61 487.78 427.08 487.22 429.17 487.08C431.25 486.94 432.64 487.43 433.33 487.50"/><path d="M379.75 513.75C380.62 513.96 383.29 514.27 385.00 515.00C386.71 515.73 388.33 517.19 390.00 518.12C391.67 519.06 393.33 519.79 395.00 520.62C396.67 521.46 397.92 522.60 400.00 523.12C402.08 523.65 405.00 523.96 407.50 523.75C410.00 523.54 412.50 522.92 415.00 521.88C417.50 520.83 420.00 519.27 422.50 517.50C425.00 515.73 427.50 513.44 430.00 511.25C432.50 509.06 435.42 506.15 437.50 504.38C439.58 502.60 441.29 501.35 442.50 500.62C443.71 499.90 444.38 500.10 444.75 500.00"/><path d="M379.75 526.00C380.21 525.88 381.62 525.58 382.50 525.25C383.38 524.92 383.54 524.98 385.00 524.00C386.46 523.02 389.17 520.98 391.25 519.38C393.33 517.77 395.42 516.04 397.50 514.38C399.58 512.71 401.67 511.10 403.75 509.38C405.83 507.65 407.92 505.42 410.00 504.00C412.08 502.58 414.17 501.71 416.25 500.88C418.33 500.04 420.42 499.52 422.50 499.00C424.58 498.48 426.67 498.02 428.75 497.75C430.83 497.48 433.12 497.27 435.00 497.38C436.88 497.48 438.38 497.94 440.00 498.38C441.62 498.81 443.96 499.73 444.75 500.00"/><path d="M379.75 526.00C380.21 526.04 381.62 526.27 382.50 526.25C383.38 526.23 383.54 526.67 385.00 525.88C386.46 525.08 389.17 523.02 391.25 521.50C393.33 519.98 395.42 518.31 397.50 516.75C399.58 515.19 401.67 513.73 403.75 512.12C405.83 510.52 407.92 508.69 410.00 507.12C412.08 505.56 414.17 504.10 416.25 502.75C418.33 501.40 420.42 500.25 422.50 499.00C424.58 497.75 426.67 496.40 428.75 495.25C430.83 494.10 432.92 493.08 435.00 492.12C437.08 491.17 439.62 490.10 441.25 489.50C442.88 488.90 444.17 488.67 444.75 488.50"/><path d="M444.75 437.25C447.29 437.33 455.38 437.71 460.00 437.75C464.62 437.79 468.33 437.85 472.50 437.50C476.67 437.15 480.83 436.21 485.00 435.62C489.17 435.04 493.38 434.35 497.50 434.00C501.62 433.65 507.71 433.58 509.75 433.50"/><path d="M444.75 460.38C447.29 460.42 455.38 460.44 460.00 460.62C464.62 460.81 468.33 461.23 472.50 461.50C476.67 461.77 480.83 462.04 485.00 462.25C489.17 462.46 493.38 462.71 497.50 462.75C501.62 462.79 507.71 462.54 509.75 462.50"/><path d="M444.75 479.38C446.25 479.27 450.17 479.27 453.75 478.75C457.33 478.23 462.08 477.19 466.25 476.25C470.42 475.31 474.58 474.27 478.75 473.12C482.92 471.98 487.71 470.31 491.25 469.38C494.79 468.44 496.92 467.81 500.00 467.50C503.08 467.19 508.12 467.50 509.75 467.50"/><path d="M444.75 479.62C446.25 479.56 450.17 479.71 453.75 479.25C457.33 478.79 462.08 477.79 466.25 476.88C470.42 475.96 474.58 474.90 478.75 473.75C482.92 472.60 487.71 470.98 491.25 470.00C494.79 469.02 496.92 468.29 500.00 467.88C503.08 467.46 508.12 467.56 509.75 467.50"/><path d="M444.75 488.12C445.83 487.92 448.71 487.60 451.25 486.88C453.79 486.15 456.46 485.10 460.00 483.75C463.54 482.40 468.33 479.90 472.50 478.75C476.67 477.60 480.83 476.88 485.00 476.88C489.17 476.88 493.38 478.23 497.50 478.75C501.62 479.27 507.71 479.79 509.75 480.00"/><path d="M444.75 488.38C447.29 488.54 453.29 489.21 460.00 489.38C466.71 489.54 476.71 489.38 485.00 489.38C493.29 489.38 505.62 489.38 509.75 489.38"/><path d="M444.75 500.00C446.25 500.00 450.17 500.42 453.75 500.00C457.33 499.58 462.08 498.65 466.25 497.50C470.42 496.35 474.58 494.79 478.75 493.12C482.92 491.46 487.50 489.17 491.25 487.50C495.00 485.83 498.17 484.38 501.25 483.12C504.33 481.88 508.33 480.52 509.75 480.00"/><path d="M509.75 433.50C512.50 433.65 521.42 433.81 526.25 434.38C531.08 434.94 534.58 435.83 538.75 436.88C542.92 437.92 547.08 439.69 551.25 440.62C555.42 441.56 560.21 442.29 563.75 442.50C567.29 442.71 569.38 442.40 572.50 441.88C575.62 441.35 579.17 440.52 582.50 439.38C585.83 438.23 589.29 436.25 592.50 435.00C595.71 433.75 600.21 432.40 601.75 431.88"/><path d="M509.75 433.50C512.50 433.85 521.42 434.33 526.25 435.62C531.08 436.92 535.00 439.17 538.75 441.25C542.50 443.33 545.62 445.94 548.75 448.12C551.88 450.31 554.58 452.40 557.50 454.38C560.42 456.35 563.33 458.23 566.25 460.00C569.17 461.77 571.88 463.33 575.00 465.00C578.12 466.67 581.67 468.79 585.00 470.00C588.33 471.21 592.21 471.88 595.00 472.25C597.79 472.62 600.62 472.25 601.75 472.25"/><path d="M509.75 462.50C512.50 462.50 521.42 462.54 526.25 462.50C531.08 462.46 535.21 462.67 538.75 462.25C542.29 461.83 544.38 461.06 547.50 460.00C550.62 458.94 554.38 456.94 557.50 455.88C560.62 454.81 563.12 454.08 566.25 453.62C569.38 453.17 572.50 452.94 576.25 453.12C580.00 453.31 584.50 454.21 588.75 454.75C593.00 455.29 599.58 456.10 601.75 456.38"/><path d="M509.75 462.50C513.54 462.60 525.58 462.75 532.50 463.12C539.42 463.50 545.00 464.33 551.25 464.75C557.50 465.17 561.58 465.38 570.00 465.62C578.42 465.88 596.46 466.15 601.75 466.25"/><path d="M509.75 467.50C510.62 467.67 513.29 468.04 515.00 468.50C516.71 468.96 518.12 469.69 520.00 470.25C521.88 470.81 524.38 471.79 526.25 471.88C528.12 471.96 529.58 471.35 531.25 470.75C532.92 470.15 534.58 468.94 536.25 468.25C537.92 467.56 539.79 466.96 541.25 466.62C542.71 466.29 543.33 466.04 545.00 466.25C546.67 466.46 549.17 467.25 551.25 467.88C553.33 468.50 554.38 469.12 557.50 470.00C560.62 470.88 566.35 472.46 570.00 473.12C573.65 473.79 576.25 473.90 579.38 474.00C582.50 474.10 585.02 473.98 588.75 473.75C592.48 473.52 599.58 472.81 601.75 472.62"/><path d="M509.75 462.75C513.54 462.88 526.62 463.02 532.50 463.50C538.38 463.98 540.83 464.81 545.00 465.62C549.17 466.44 553.85 467.71 557.50 468.38C561.15 469.04 563.96 469.35 566.88 469.62C569.79 469.90 572.81 470.10 575.00 470.00C577.19 469.90 578.33 469.42 580.00 469.00C581.67 468.58 583.54 467.90 585.00 467.50C586.46 467.10 585.96 466.81 588.75 466.62C591.54 466.44 599.58 466.42 601.75 466.38"/><path d="M509.75 480.00C511.04 479.58 514.75 478.38 517.50 477.50C520.25 476.62 523.33 474.85 526.25 474.75C529.17 474.65 531.88 476.00 535.00 476.88C538.12 477.75 541.25 479.17 545.00 480.00C548.75 480.83 553.33 481.15 557.50 481.88C561.67 482.60 566.25 483.33 570.00 484.38C573.75 485.42 577.08 486.77 580.00 488.12C582.92 489.48 585.00 491.15 587.50 492.50C590.00 493.85 592.62 495.46 595.00 496.25C597.38 497.04 600.62 497.08 601.75 497.25"/><path d="M509.75 480.00C511.46 480.31 516.21 481.25 520.00 481.88C523.79 482.50 528.75 483.60 532.50 483.75C536.25 483.90 539.38 483.27 542.50 482.75C545.62 482.23 547.92 481.40 551.25 480.62C554.58 479.85 558.96 478.44 562.50 478.12C566.04 477.81 569.17 478.33 572.50 478.75C575.83 479.17 579.17 480.42 582.50 480.62C585.83 480.83 589.29 480.27 592.50 480.00C595.71 479.73 600.21 479.17 601.75 479.00"/><path d="M509.75 489.38C512.50 489.38 521.42 489.17 526.25 489.38C531.08 489.58 534.58 490.10 538.75 490.62C542.92 491.15 547.08 491.88 551.25 492.50C555.42 493.12 559.58 493.85 563.75 494.38C567.92 494.90 572.08 495.27 576.25 495.62C580.42 495.98 584.50 496.23 588.75 496.50C593.00 496.77 599.58 497.12 601.75 497.25"/><path d="M510.00 489.40C512.71 489.50 522.08 489.07 526.25 490.00C530.42 490.93 532.62 493.53 535.00 495.00C537.38 496.47 538.67 497.45 540.50 498.80C542.33 500.15 544.04 501.33 546.00 503.10C547.96 504.87 550.17 507.32 552.25 509.40C554.33 511.48 556.42 513.83 558.50 515.60C560.58 517.37 562.67 518.85 564.75 520.00C566.83 521.15 569.12 522.00 571.00 522.50C572.88 523.00 574.33 523.05 576.00 523.00C577.67 522.95 579.33 522.65 581.00 522.20C582.67 521.75 584.33 521.08 586.00 520.30C587.67 519.52 589.33 518.33 591.00 517.50C592.67 516.67 594.25 515.85 596.00 515.30C597.75 514.75 600.58 514.38 601.50 514.20"/><path d="M509.75 489.40C511.46 489.33 516.62 488.97 520.00 489.00C523.38 489.03 527.00 489.22 530.00 489.60C533.00 489.98 535.33 490.50 538.00 491.30C540.67 492.10 543.62 493.22 546.00 494.40C548.38 495.58 550.17 497.00 552.25 498.40C554.33 499.80 556.42 501.38 558.50 502.80C560.58 504.22 562.67 505.55 564.75 506.90C566.83 508.25 568.92 509.50 571.00 510.90C573.08 512.30 575.38 513.93 577.25 515.30C579.12 516.67 580.69 518.00 582.25 519.10C583.81 520.20 585.14 521.12 586.60 521.90C588.06 522.67 589.43 523.18 591.00 523.75C592.57 524.32 594.25 524.91 596.00 525.30C597.75 525.69 600.58 525.97 601.50 526.10"/><path d="M509.75 489.40C511.46 489.37 516.62 489.10 520.00 489.20C523.38 489.30 527.00 489.53 530.00 490.00C533.00 490.47 535.33 491.07 538.00 492.00C540.67 492.93 543.62 494.27 546.00 495.60C548.38 496.93 550.17 498.48 552.25 500.00C554.33 501.52 556.42 503.13 558.50 504.70C560.58 506.27 562.67 507.95 564.75 509.40C566.83 510.85 568.92 512.00 571.00 513.40C573.08 514.80 575.38 516.55 577.25 517.80C579.12 519.05 580.69 520.07 582.25 520.90C583.81 521.73 585.14 522.22 586.60 522.80C588.06 523.38 589.43 523.93 591.00 524.40C592.57 524.87 594.25 525.27 596.00 525.60C597.75 525.93 600.58 526.27 601.50 526.40"/><path d="M509.75 480.00C511.46 480.58 516.21 482.25 520.00 483.50C523.79 484.75 529.17 486.32 532.50 487.50C535.83 488.68 537.75 489.56 540.00 490.60C542.25 491.64 543.96 492.65 546.00 493.75C548.04 494.85 550.17 496.11 552.25 497.20C554.33 498.29 556.42 499.42 558.50 500.30C560.58 501.18 562.67 501.72 564.75 502.50C566.83 503.28 569.12 504.07 571.00 505.00C572.88 505.93 574.33 506.85 576.00 508.10C577.67 509.35 579.33 510.93 581.00 512.50C582.67 514.07 584.54 516.10 586.00 517.50C587.46 518.90 588.50 519.97 589.75 520.90C591.00 521.83 592.25 522.47 593.50 523.10C594.75 523.73 595.92 524.27 597.25 524.70C598.58 525.13 600.79 525.53 601.50 525.70"/><path d="M618.40 440.40C620.33 440.23 625.98 439.88 630.00 439.40C634.02 438.92 638.18 437.88 642.50 437.50C646.82 437.12 653.67 437.17 655.90 437.10"/><path d="M618.40 465.00C620.33 464.79 625.98 464.38 630.00 463.75C634.02 463.12 638.18 461.81 642.50 461.25C646.82 460.69 653.67 460.54 655.90 460.40"/><path d="M618.40 478.75L655.90 479.75"/><path d="M618.40 483.50C620.33 483.85 625.98 484.83 630.00 485.60C634.02 486.37 638.18 487.53 642.50 488.10C646.82 488.67 653.67 488.85 655.90 489.00"/><path d="M618.40 489.40L655.90 488.50"/><path d="M618.40 495.00C620.33 495.21 625.98 495.52 630.00 496.25C634.02 496.98 638.18 498.71 642.50 499.40C646.82 500.09 653.67 500.23 655.90 500.40"/><path d="M672.25 434.60L709.75 433.75"/><path d="M672.25 463.75L709.75 463.50"/><path d="M672.25 470.00C674.38 469.90 680.79 469.72 685.00 469.40C689.21 469.08 693.38 468.42 697.50 468.10C701.62 467.78 707.71 467.60 709.75 467.50"/><path d="M672.25 479.20L709.75 480.50"/><path d="M672.25 480.00L709.75 483.00"/><path d="M672.25 492.25C674.38 492.12 680.79 491.92 685.00 491.50C689.21 491.08 693.38 490.17 697.50 489.75C701.62 489.33 707.71 489.12 709.75 489.00"/></g>
<g fill="none" stroke-linejoin="round" stroke-linecap="butt" clip-path="url(#c3)"><path d="M726.50 174.20L726.33 188.33L731.67 191.67L736.67 194.67L739.67 196.33L740.00 200.83L741.33 206.67L744.17 210.33L748.33 213.33L749.67 214.33L746.67 216.33L745.00 219.17L747.00 223.00L745.00 225.00L740.00 227.50L735.00 230.83L731.67 235.00L730.00 240.00L729.17 246.67L728.67 250.83L730.83 255.00L735.00 256.33L740.00 256.67L733.33 258.33L731.67 260.00L733.00 265.00L735.00 270.00L740.00 272.50L741.67 273.33L739.67 275.83L738.00 280.00L738.00 286.67L739.67 293.33L742.50 298.33L739.67 300.33L739.17 302.50L742.50 306.33L746.67 308.67L750.00 312.00L755.00 313.33L765.00 314.17L781.67 314.67L799.17 315.33L781.67 316.33L770.00 318.33L760.00 320.83L753.33 323.33L750.00 325.83L751.67 328.33L756.67 330.83L753.33 332.17L747.50 333.00L745.00 335.00L745.33 337.50L738.33 338.67L731.67 339.67L726.33 340.33L726.50 345.00L727.30 432.00L727.40 470.00L727.10 500.00L726.50 530.00L726.50 551.70" stroke="#1f77b4" stroke-width="2.3"/><path d="M726.50 174.20L726.33 436.33L730.00 439.67L733.00 442.50L729.17 444.67L728.33 447.50L730.00 450.00L734.17 451.67L737.50 453.33L733.33 455.33L736.67 457.50L748.33 459.17L781.67 460.33L815.00 461.33L851.67 462.17L815.00 463.33L781.67 464.67L765.00 465.83L755.83 467.50L770.00 468.67L785.83 469.67L778.33 471.33L764.17 473.67L765.00 476.33L781.67 478.33L797.50 480.00L781.67 482.00L770.00 484.17L778.33 486.33L798.33 487.50L811.67 488.33L798.33 490.00L781.67 491.17L765.00 492.83L748.33 495.00L738.33 497.00L732.50 500.00L730.33 505.00L729.67 511.67L729.17 520.00L729.00 515.00L729.17 520.00L730.00 523.75L728.75 525.83L727.50 531.67L726.83 537.50L726.50 545.83L726.25 551.67" stroke="#ff7f0e" stroke-width="2.3"/><path d="M726.50 174.20L726.33 434.00L740.00 434.67L752.50 435.33L755.00 436.67L773.33 438.00L790.00 439.17L798.33 440.33L788.33 442.50L773.33 444.17L756.67 445.33L740.00 446.33L736.67 449.17L735.83 451.67L731.67 454.17L728.33 456.33L733.33 459.17L740.00 461.67L741.67 463.67L736.67 466.33L745.00 468.00L751.67 469.67L753.33 472.00L756.67 474.17L758.67 477.50L765.00 479.67L772.50 482.00L763.33 483.67L758.67 486.67L767.50 488.67L760.00 490.33L751.67 492.00L753.33 494.17L759.17 495.83L756.67 498.00L750.00 500.83L745.00 504.17L741.67 508.33L739.17 513.33L737.00 518.33L735.83 521.67L735.00 522.08L740.00 523.33L734.17 524.58L731.67 526.67L729.58 530.83L727.92 536.67L727.33 541.67L726.50 550.00L726.25 551.67" stroke="#2ca02c" stroke-width="2.3"/><path d="M726.50 174.20L726.33 188.33L731.67 191.67L736.67 194.67L739.67 196.33L740.00 200.83L741.33 206.67L744.17 210.33L748.33 213.33L749.67 214.33L746.67 216.33L745.00 219.17L747.00 223.00L745.00 225.00L740.00 227.50L735.00 230.83L731.67 235.00L730.00 240.00L729.17 246.67L728.67 250.83L730.83 255.00L735.00 256.33L740.00 256.67L733.33 258.33L731.67 260.00L733.00 265.00L735.00 270.00L740.00 272.50L741.67 273.33L739.67 275.83L738.00 280.00L738.00 286.67L739.67 293.33L742.50 298.33L739.67 300.33L739.17 302.50L742.50 306.33L746.67 308.67L750.00 312.00L755.00 313.33L765.00 314.17L781.67 314.67L799.17 315.33L781.67 316.33L770.00 318.33L760.00 320.83L753.33 323.33L750.00 325.83L751.67 328.33L756.67 330.83L753.33 332.17L747.50 333.00L745.00 335.00L745.33 337.50L738.33 338.67L731.67 339.67L726.33 340.33L726.33 434.00L740.00 434.33L755.00 436.00L773.33 437.50L790.00 438.67L802.50 440.33L795.00 442.50L773.33 444.67L756.67 445.83L740.00 446.67L739.17 449.17L745.00 452.50L742.50 455.00L737.50 455.83L741.67 458.33L756.67 459.67L798.33 460.83L862.50 462.50L815.00 464.17L771.67 466.67L790.00 468.00L810.83 469.17L805.00 471.33L792.50 474.17L798.33 476.67L805.00 478.67L823.33 479.33L840.00 480.00L828.33 482.00L813.33 483.67L798.33 484.17L815.00 486.67L831.67 487.50L853.33 488.67L831.67 490.33L815.00 491.33L798.33 493.00L781.67 495.00L765.00 498.00L753.33 501.67L746.67 506.67L742.50 513.33L739.67 520.00L739.17 518.33L737.92 521.25L743.33 523.75L736.67 525.00L732.92 528.33L730.00 533.33L728.33 537.50L727.50 541.67L726.50 550.00L726.25 551.67" stroke="#000" stroke-width="1.04" stroke-dasharray="1.04 1.72"/></g>
<g fill="none" stroke="#0000ff" stroke-width="1.04" stroke-dasharray="1.04 1.72"><path d="M120.00 550.45L602.00 550.45"/><path d="M618.70 550.45L656.00 550.45"/><path d="M672.60 550.45L710.00 550.45"/></g>
<g fill="none" stroke="#000" stroke-linecap="butt"><rect stroke-width="1.9" x="120.00" y="157.00" width="482.00" height="413.00" stroke-linejoin="miter"/><rect stroke-width="1.9" x="618.70" y="157.00" width="37.30" height="413.00" stroke-linejoin="miter"/><rect stroke-width="1.9" x="672.60" y="157.00" width="37.40" height="413.00" stroke-linejoin="miter"/><rect stroke-width="1.9" x="726.50" y="157.00" width="137.50" height="413.00" stroke-linejoin="miter"/></g>
<g><text font-size="22.7" transform="translate(120.0,592.0) rotate(0.03)" text-anchor="middle" textLength="12.30" lengthAdjust="spacingAndGlyphs">Γ</text><text font-size="22.7" transform="translate(185.1,592.0) rotate(0.03)" text-anchor="middle" textLength="13.30" lengthAdjust="spacingAndGlyphs">X</text><text font-size="22.7" transform="translate(250.2,592.0) rotate(0.03)" text-anchor="middle" textLength="17.00" lengthAdjust="spacingAndGlyphs">M</text><text font-size="22.7" transform="translate(342.2,592.0) rotate(0.03)" text-anchor="middle" textLength="12.30" lengthAdjust="spacingAndGlyphs">Γ</text><text font-size="22.7" transform="translate(379.8,592.0) rotate(0.03)" text-anchor="middle" textLength="12.80" lengthAdjust="spacingAndGlyphs">Z</text><text font-size="22.7" transform="translate(444.9,592.0) rotate(0.03)" text-anchor="middle" textLength="13.30" lengthAdjust="spacingAndGlyphs">R</text><text font-size="22.7" transform="translate(510.0,592.0) rotate(0.03)" text-anchor="middle" textLength="14.00" lengthAdjust="spacingAndGlyphs">A</text><text font-size="22.7" transform="translate(602.0,592.0) rotate(0.03)" text-anchor="middle" textLength="12.80" lengthAdjust="spacingAndGlyphs">Z</text><text font-size="22.7" transform="translate(618.7,592.0) rotate(0.03)" text-anchor="middle" textLength="13.30" lengthAdjust="spacingAndGlyphs">X</text><text font-size="22.7" transform="translate(656.0,592.0) rotate(0.03)" text-anchor="middle" textLength="13.30" lengthAdjust="spacingAndGlyphs">R</text><text font-size="22.7" transform="translate(672.6,592.0) rotate(0.03)" text-anchor="middle" textLength="17.00" lengthAdjust="spacingAndGlyphs">M</text><text font-size="22.7" transform="translate(710.0,592.0) rotate(0.03)" text-anchor="middle" textLength="14.00" lengthAdjust="spacingAndGlyphs">A</text><text font-size="23.26" transform="translate(726.5,592.9) rotate(0.03)" text-anchor="middle" textLength="12.00" lengthAdjust="spacingAndGlyphs">0</text><text font-size="23.26" transform="translate(802.5,592.9) rotate(0.03)" text-anchor="middle" textLength="12.00" lengthAdjust="spacingAndGlyphs">5</text><text font-size="23.26" transform="translate(112.0,558.0) rotate(0.03)" text-anchor="end" textLength="12.30" lengthAdjust="spacingAndGlyphs">0</text><text font-size="23.26" transform="translate(112.0,508.0) rotate(0.03)" text-anchor="end" textLength="12.30" lengthAdjust="spacingAndGlyphs">2</text><text font-size="23.26" transform="translate(112.0,458.0) rotate(0.03)" text-anchor="end" textLength="12.30" lengthAdjust="spacingAndGlyphs">4</text><text font-size="23.26" transform="translate(112.0,408.0) rotate(0.03)" text-anchor="end" textLength="12.30" lengthAdjust="spacingAndGlyphs">6</text><text font-size="23.26" transform="translate(112.0,358.0) rotate(0.03)" text-anchor="end" textLength="12.30" lengthAdjust="spacingAndGlyphs">8</text><text font-size="23.26" transform="translate(112.0,308.0) rotate(0.03)" text-anchor="end" textLength="24.60" lengthAdjust="spacingAndGlyphs">10</text><text font-size="23.26" transform="translate(112.0,259.0) rotate(0.03)" text-anchor="end" textLength="24.60" lengthAdjust="spacingAndGlyphs">12</text><text font-size="23.26" transform="translate(112.0,209.0) rotate(0.03)" text-anchor="end" textLength="24.60" lengthAdjust="spacingAndGlyphs">14</text><text font-size="23.0" transform="translate(74.0,363.6) rotate(-90)" text-anchor="middle" textLength="168.3" lengthAdjust="spacingAndGlyphs">Frequency (THz)</text></g>
</svg>
</body></html>
